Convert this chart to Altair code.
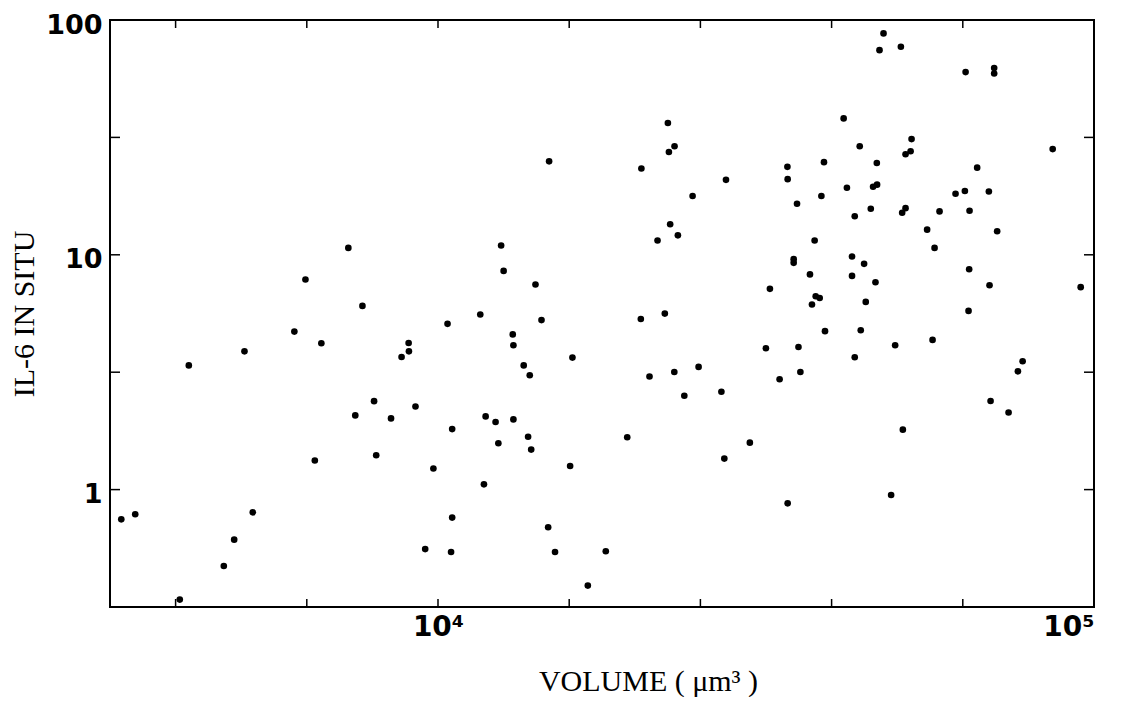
import altair as alt
import pandas as pd

# Cell volume (µm³) and IL-6 in situ signal
volume = [
    7300, 6280, 7670, 6040, 6640, 5070, 9020, 9030, 8800, 4170,
    7990, 9240, 7480, 8480, 6490, 8050, 3290, 3455, 5220, 4890,
    4715, 4040, 9560, 14770, 12480, 12590, 14080, 22410, 22940, 22490,
    20420, 27480, 24440, 22590, 23210, 21610, 10340, 11600, 14380, 13000,
    13030, 13510, 13800, 16030, 20380, 22170, 21010, 22920, 24960, 23740,
    27040, 29880, 27320, 11820, 12240, 13030, 10510, 12360, 13720, 13870,
    19430, 9840, 15900, 11750, 10510, 10470, 14720, 15080, 18020, 16920,
    47770, 47100, 50770, 63720, 70440, 70440, 41530, 52710, 43940, 51610,
    52530, 34090, 34120, 38760, 46660, 86500, 66360, 35260, 38410, 42010,
    46050, 46700, 61510, 63560, 69140, 43180, 45680, 51000, 51610, 58150,
    64610, 55670, 71180, 37510, 57140, 34850, 34850, 42770, 44620, 36900,
    42770, 46440, 64520, 69300, 95440, 32060, 37650, 38180, 37160, 44880,
    64380, 38900, 44100, 31610, 35440, 43180, 49760, 56740, 33170, 35680,
    77840, 76560, 69560, 74090, 51120, 34120, 49060,
]
il6 = [
    10.7, 7.85, 6.06, 4.71, 4.20, 3.88, 4.21, 3.88, 3.67, 3.38,
    2.38, 2.26, 2.07, 2.01, 1.33, 1.40, 0.747, 0.785, 0.80, 0.612,
    0.473, 0.34, 0.558, 25.0, 10.95, 8.54, 7.47, 36.4, 29.0, 27.4,
    23.3, 20.85, 17.8, 13.5, 12.1, 11.5, 5.08, 5.57, 5.27, 4.58,
    4.12, 3.38, 3.07, 3.65, 5.33, 5.62, 3.03, 3.17, 3.33, 2.51,
    2.61, 1.585, 1.355, 2.05, 1.94, 1.99, 1.81, 1.575, 1.68, 1.48,
    1.67, 1.23, 1.26, 1.053, 0.76, 0.542, 0.691, 0.542, 0.546, 0.39,
    87.7, 74.4, 76.9, 60.0, 62.4, 59.2, 38.1, 31.1, 29.0, 26.8,
    27.6, 23.7, 21.0, 24.8, 24.6, 28.2, 23.5, 16.5, 17.8, 19.3,
    19.5, 19.9, 18.2, 18.7, 18.6, 14.6, 15.7, 15.1, 15.8, 15.3,
    15.4, 12.8, 12.6, 11.5, 10.7, 9.58, 9.24, 9.83, 9.15, 8.25,
    8.13, 7.64, 8.68, 7.42, 7.28, 7.16, 6.66, 6.55, 6.14, 6.30,
    5.77, 4.73, 4.77, 4.00, 4.05, 3.66, 4.12, 4.34, 2.95, 3.17,
    3.52, 3.19, 2.385, 2.13, 1.80, 0.874, 0.948,
]

# Axis extents, inner tick positions and labels
x_domain = [3162.28, 100000]
y_domain = [0.316228, 100]
x_tick_values = [3981.07, 6309.57, 10000, 15848.9, 25118.9, 39810.7, 63095.7]
y_tick_values = [1, 3.16228, 10, 31.6228]
x_label_values = [10000, 100000]
x_label_text = ["10⁴", "10⁵"]
y_label_values = [1, 10, 100]

W, H = 984, 587

df = pd.DataFrame({"volume": volume, "il6": il6})
xt = pd.DataFrame({"volume": x_tick_values})
yt = pd.DataFrame({"il6": y_tick_values})

xscale = alt.Scale(type="log", domain=x_domain, nice=False)
yscale = alt.Scale(type="log", domain=y_domain, nice=False)

label_expr = (
    f"datum.value == {x_label_values[0]} ? '{x_label_text[0]}' : '{x_label_text[1]}'"
)

xaxis = alt.Axis(
    values=x_label_values,
    labelExpr=label_expr,
    ticks=False,
    tickSize=0,
    domain=False,
    grid=False,
    labelFont="DejaVu Sans",
    labelFontWeight="bold",
    labelFontSize=28,
    labelColor="black",
    labelPadding=6,
    title="VOLUME ( μm³ )",
    titleFont="Liberation Serif",
    titleFontSize=30,
    titleFontWeight="normal",
    titleColor="black",
    titleX=538,
    titleY=83,
    titleAlign="center",
    titleBaseline="alphabetic",
)
yaxis = alt.Axis(
    values=y_label_values,
    format="d",
    ticks=False,
    tickSize=0,
    domain=False,
    grid=False,
    labelFont="DejaVu Sans",
    labelFontWeight="bold",
    labelFontSize=27,
    labelColor="black",
    labelPadding=8,
    labelOffset=5,
    title="IL-6 IN SITU",
    titleFont="Liberation Serif",
    titleFontSize=30,
    titleFontWeight="normal",
    titleColor="black",
    titleAngle=270,
    titleX=-77,
    titleY=H / 2,
    titleAlign="center",
    titleBaseline="alphabetic",
)

X = alt.X("volume:Q", scale=xscale, axis=xaxis)
Y = alt.Y("il6:Q", scale=yscale, axis=yaxis)

points = alt.Chart(df).mark_circle(size=44, color="black", opacity=1).encode(x=X, y=Y)

tick_len = 8
bottom_ticks = alt.Chart(xt).mark_rule(color="black", strokeWidth=1.5).encode(
    x=X, y=alt.value(H), y2=alt.value(H - tick_len)
)
top_ticks = alt.Chart(xt).mark_rule(color="black", strokeWidth=1.5).encode(
    x=X, y=alt.value(0), y2=alt.value(tick_len)
)
left_ticks = alt.Chart(yt).mark_rule(color="black", strokeWidth=1.5).encode(
    y=Y, x=alt.value(0), x2=alt.value(tick_len + 2)
)
right_ticks = alt.Chart(yt).mark_rule(color="black", strokeWidth=1.5).encode(
    y=Y, x=alt.value(W), x2=alt.value(W - tick_len - 2)
)

chart = (
    alt.layer(points, bottom_ticks, top_ticks, left_ticks, right_ticks)
    .properties(
        width=W,
        height=H,
        padding={"left": 102, "top": 12, "right": 26, "bottom": 90},
        autosize=alt.AutoSizeParams(type="none"),
        background="white",
    )
    .configure_view(stroke="black", strokeWidth=2)
)

chart.save("out.html", embed_options={"renderer": "svg", "actions": False})
